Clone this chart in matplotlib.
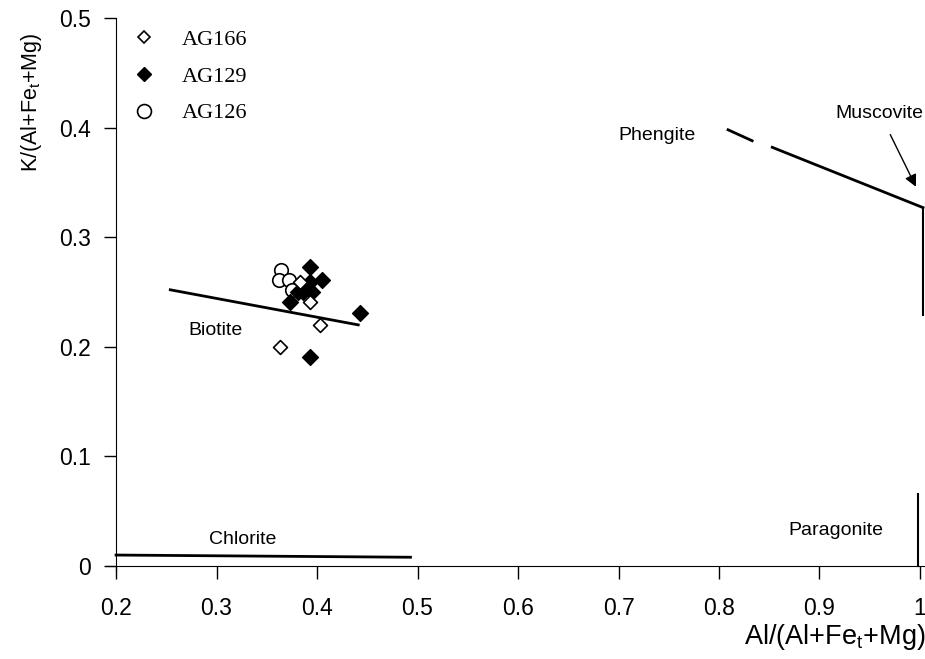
import matplotlib
matplotlib.use("Agg")
import matplotlib.pyplot as plt
from matplotlib.lines import Line2D

plt.rcParams["font.family"] = ["Liberation Sans", "DejaVu Sans"]
plt.rcParams["mathtext.fontset"] = "custom"
plt.rcParams["mathtext.rm"] = "Liberation Sans"
plt.rcParams["mathtext.it"] = "Liberation Sans"

# sample points
ag166_x = [0.383, 0.393, 0.403, 0.363]
ag166_y = [0.259, 0.241, 0.220, 0.200]

ag129_x = [0.393, 0.405, 0.393, 0.386, 0.381, 0.395, 0.373, 0.443, 0.393]
ag129_y = [0.273, 0.261, 0.259, 0.250, 0.250, 0.250, 0.241, 0.231, 0.191]

ag126_x = [0.364, 0.362, 0.372, 0.375]
ag126_y = [0.270, 0.261, 0.261, 0.252]

# reference mineral lines
biotite_x = [0.254, 0.441]
biotite_y = [0.252, 0.220]
chlorite_x = [0.200, 0.493]
chlorite_y = [0.010, 0.008]
phengite_dash_x = [0.809, 0.833]
phengite_dash_y = [0.398, 0.388]
phengite_x = [0.853, 1.003]
phengite_y = [0.382, 0.327]
muscovite_x = [1.003, 1.003]
muscovite_y = [0.327, 0.229]
paragonite_x = [0.998, 0.998]
paragonite_y = [0.066, 0.0]

xticks = [0.2, 0.3, 0.4, 0.5, 0.6, 0.7, 0.8, 0.9, 1.0]
xticklabels = ["0.2", "0.3", "0.4", "0.5", "0.6", "0.7", "0.8", "0.9", "1"]
yticks = [0, 0.1, 0.2, 0.3, 0.4, 0.5]
yticklabels = ["0", "0.1", "0.2", "0.3", "0.4", "0.5"]

fig = plt.figure(figsize=(9.25, 6.59), dpi=100)
ax = fig.add_axes([0.1146, 0.1328, 0.8854, 0.8399])

ax.plot(biotite_x, biotite_y, color="black", lw=2)
ax.plot(chlorite_x, chlorite_y, color="black", lw=2)
ax.plot(phengite_dash_x, phengite_dash_y, color="black", lw=2, clip_on=False)
ax.plot(phengite_x, phengite_y, color="black", lw=2, clip_on=False)
ax.plot(muscovite_x, muscovite_y, color="black", lw=1.5, clip_on=False)
ax.plot(paragonite_x, paragonite_y, color="black", lw=1.5, clip_on=False)

ax.scatter(ag126_x, ag126_y, s=95, marker="o", facecolors="white",
           edgecolors="black", linewidths=1.2, zorder=3)
ax.scatter(ag129_x, ag129_y, s=65, marker="D", color="black", zorder=4)
ax.scatter(ag166_x, ag166_y, s=50, marker="D", facecolors="white",
           edgecolors="black", linewidths=1.2, zorder=5)

ax.text(0.299, 0.215, "Biotite", fontsize=14, ha="center", va="center")
ax.text(0.326, 0.024, "Chlorite", fontsize=14, ha="center", va="center")
ax.text(0.916, 0.032, "Paragonite", fontsize=14, ha="center", va="center")
ax.text(0.738, 0.393, "Phengite", fontsize=14, ha="center", va="center")
ax.annotate("Muscovite", xy=(0.996, 0.346), xytext=(0.960, 0.413),
            fontsize=14, ha="center", va="center",
            arrowprops=dict(arrowstyle="-|>", color="black", lw=1,
                            mutation_scale=18, shrinkA=8, shrinkB=0))

ax.set_xlim(0.19, 1.005)
ax.set_ylim(-0.005, 0.5)
ax.spines["top"].set_visible(False)
ax.spines["right"].set_visible(False)
ax.spines["left"].set_position(("data", 0.2))
ax.spines["bottom"].set_position(("data", 0))
ax.set_xticks(xticks)
ax.set_xticklabels(xticklabels)
ax.set_yticks(yticks)
ax.set_yticklabels(yticklabels)
ax.tick_params(axis="both", direction="out", length=9, width=1, labelsize=16.5)
ax.tick_params(axis="x", pad=13)
ax.tick_params(axis="y", pad=9)

ax.set_xlabel(r"Al/(Al+Fe$_\mathregular{t}$+Mg)", fontsize=19.5, loc="right",
              labelpad=2)
fig.text(0.034, 0.845, r"K/(Al+Fe$_\mathregular{t}$+Mg)", fontsize=15.5,
         rotation=90, ha="center", va="center")

handles = [
    Line2D([], [], ls="none", marker="D", markersize=6, markerfacecolor="white",
           markeredgecolor="black", markeredgewidth=1.2),
    Line2D([], [], ls="none", marker="D", markersize=7, color="black"),
    Line2D([], [], ls="none", marker="o", markersize=10, markerfacecolor="white",
           markeredgecolor="black", markeredgewidth=1.2),
]
ax.legend(handles, ["AG166", "AG129", "AG126"], loc="upper left",
          bbox_to_anchor=(0.0, 1.015), frameon=False, handlelength=1.6,
          handletextpad=0.9, labelspacing=0.72,
          prop={"family": "Liberation Serif", "size": 16})

fig.savefig("out.png", dpi=100)
